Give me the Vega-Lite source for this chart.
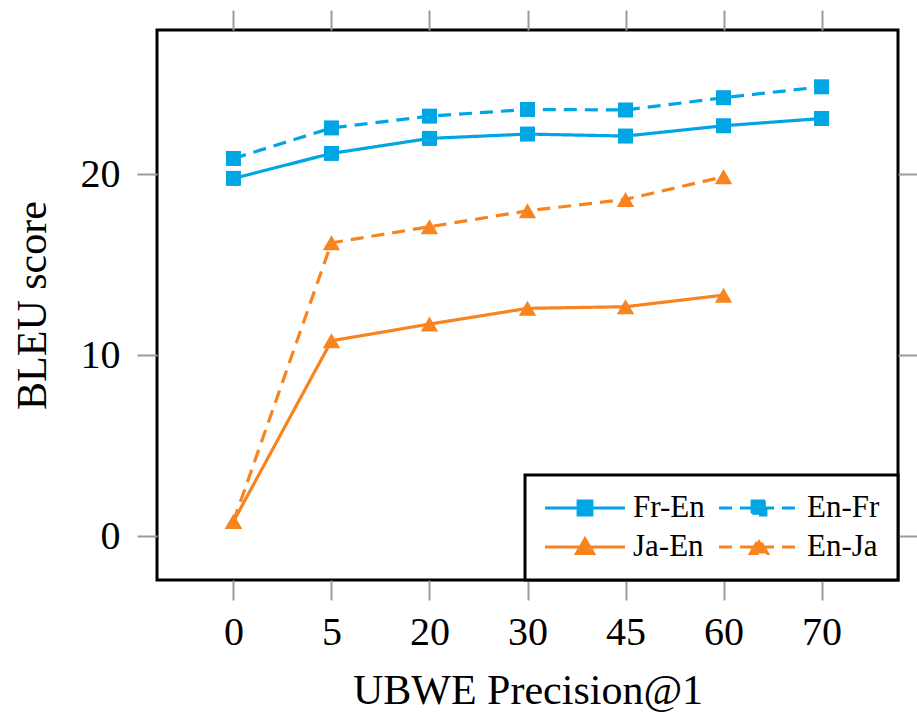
{
  "$schema": "https://vega.github.io/schema/vega-lite/v6.json",
  "width": 741,
  "height": 550,
  "autosize": {"type": "none"},
  "padding": {"left": 157, "top": 30, "right": 19, "bottom": 132},
  "background": "white",
  "config": {
    "view": {"stroke": "black", "strokeWidth": 3},
    "font": "Liberation Serif",
    "axis": {
      "domain": false,
      "grid": false,
      "tickColor": "#9a9a9a",
      "tickWidth": 2,
      "tickSize": 20,
      "labelFont": "Liberation Serif",
      "labelFontSize": 40,
      "labelColor": "black",
      "titleFont": "Liberation Serif",
      "titleFontSize": 42,
      "titleFontWeight": "normal",
      "titleColor": "black"
    }
  },
  "data": {
    "values": [
      {"x": "0", "series": "Fr-En", "y": 19.76},
      {"x": "5", "series": "Fr-En", "y": 21.14},
      {"x": "20", "series": "Fr-En", "y": 21.97},
      {"x": "30", "series": "Fr-En", "y": 22.21},
      {"x": "45", "series": "Fr-En", "y": 22.1},
      {"x": "60", "series": "Fr-En", "y": 22.67},
      {"x": "70", "series": "Fr-En", "y": 23.07},
      {"x": "0", "series": "En-Fr", "y": 20.86},
      {"x": "5", "series": "En-Fr", "y": 22.55},
      {"x": "20", "series": "En-Fr", "y": 23.2},
      {"x": "30", "series": "En-Fr", "y": 23.57},
      {"x": "45", "series": "En-Fr", "y": 23.54},
      {"x": "60", "series": "En-Fr", "y": 24.22},
      {"x": "70", "series": "En-Fr", "y": 24.82},
      {"x": "0", "series": "Ja-En", "y": 0.8},
      {"x": "5", "series": "Ja-En", "y": 10.79},
      {"x": "20", "series": "Ja-En", "y": 11.71},
      {"x": "30", "series": "Ja-En", "y": 12.58},
      {"x": "45", "series": "Ja-En", "y": 12.67},
      {"x": "60", "series": "Ja-En", "y": 13.31},
      {"x": "0", "series": "En-Ja", "y": 0.8},
      {"x": "5", "series": "En-Ja", "y": 16.2},
      {"x": "20", "series": "En-Ja", "y": 17.09},
      {"x": "30", "series": "En-Ja", "y": 17.97},
      {"x": "45", "series": "En-Ja", "y": 18.6},
      {"x": "60", "series": "En-Ja", "y": 19.85}
    ]
  },
  "layer": [
    {
      "mark": {"type": "line", "strokeWidth": 3.2},
      "encoding": {
        "x": {
          "field": "x", "type": "ordinal",
          "sort": ["0", "5", "20", "30", "45", "60", "70"],
          "scale": {"type": "point", "padding": 0.78},
          "axis": {"orient": "bottom", "labelAngle": 0, "labelPadding": 12, "title": "UBWE Precision@1", "titlePadding": 18}
        },
        "y": {
          "field": "y", "type": "quantitative",
          "scale": {"domain": [-2.43, 27.96], "nice": false, "zero": false},
          "axis": {"orient": "left", "values": [0, 10, 20], "labelPadding": 17, "title": "BLEU score", "titlePadding": 26}
        },
        "color": {
          "field": "series", "type": "nominal",
          "scale": {"domain": ["Fr-En", "Ja-En", "En-Fr", "En-Ja"], "range": ["#00a5e3", "#f7841e", "#00a5e3", "#f7841e"]},
          "legend": {
            "orient": "bottom-right",
            "offset": 0,
            "title": null,
            "columns": 2,
            "labelFont": "Liberation Serif",
            "labelFontSize": 31,
            "labelColor": "black",
            "symbolSize": 6400,
            "clipHeight": 30,
            "symbolStrokeWidth": 3.2,
            "labelOffset": 6,
            "columnPadding": 12,
            "rowPadding": 8,
            "padding": 18,
            "strokeColor": "black",
            "fillColor": "white",
            "encode": {
              "legend": {"update": {"strokeWidth": {"value": 3}}},
              "symbols": {
                "update": {
                  "shape": {"signal": "(datum.value == 'Fr-En' || datum.value == 'En-Fr') ? 'M-1,0H1M-0.17,-0.17H0.17V0.17H-0.17Z' : 'M-1,0H1M-0.21,0.16L0,-0.2L0.21,0.16Z'"},
                  "fill": {"signal": "(datum.value == 'Fr-En' || datum.value == 'En-Fr') ? '#00a5e3' : '#f7841e'"},
                  "stroke": {"signal": "(datum.value == 'Fr-En' || datum.value == 'En-Fr') ? '#00a5e3' : '#f7841e'"},
                  "strokeDash": {"signal": "(datum.value == 'En-Fr' || datum.value == 'En-Ja') ? [13, 8] : [1, 0]"},
                  "opacity": {"value": 1}
                }
              }
            }
          }
        },
        "strokeDash": {
          "field": "series", "type": "nominal",
          "scale": {"domain": ["Fr-En", "Ja-En", "En-Fr", "En-Ja"], "range": [[1, 0], [1, 0], [13, 8], [13, 8]]},
          "legend": null
        }
      }
    },
    {
      "transform": [{"filter": "datum.series == 'Fr-En' || datum.series == 'En-Fr'"}],
      "mark": {"type": "point", "shape": "square", "filled": true, "size": 225, "opacity": 1},
      "encoding": {
        "x": {"field": "x", "type": "ordinal", "sort": ["0", "5", "20", "30", "45", "60", "70"], "axis": {"orient": "top", "labels": false, "title": null}},
        "y": {"field": "y", "type": "quantitative", "axis": {"orient": "right", "values": [0, 10, 20], "labels": false, "title": null}},
        "color": {"field": "series", "type": "nominal", "legend": null}
      }
    },
    {
      "transform": [{"filter": "datum.series == 'Ja-En' || datum.series == 'En-Ja'"}],
      "mark": {"type": "point", "shape": "triangle-up", "filled": true, "size": 300, "opacity": 1},
      "encoding": {
        "x": {"field": "x", "type": "ordinal", "sort": ["0", "5", "20", "30", "45", "60", "70"], "axis": null},
        "y": {"field": "y", "type": "quantitative", "axis": null},
        "color": {"field": "series", "type": "nominal", "legend": null}
      }
    }
  ],
  "resolve": {"axis": {"x": "independent", "y": "independent"}}
}
